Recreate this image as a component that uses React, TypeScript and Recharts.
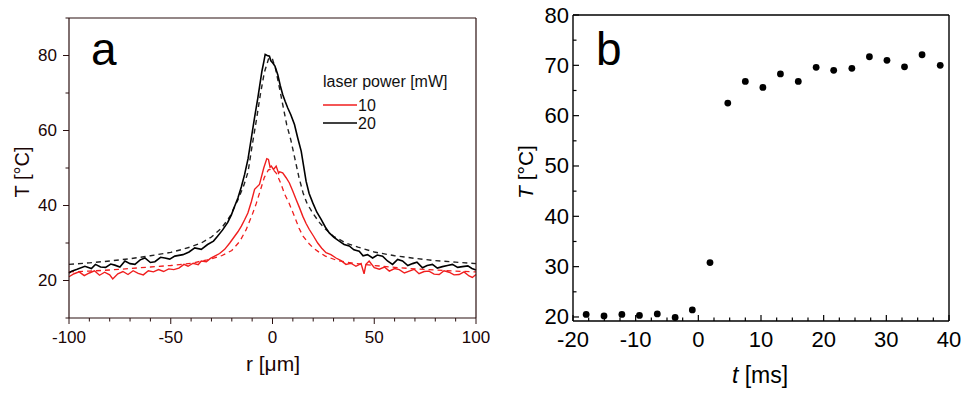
import React from "react";
import { LineChart, Line, ScatterChart, Scatter, XAxis, YAxis } from "recharts";

// ---- panel a: radial temperature profiles ----
const r20 = [
  -100, -98.7, -96, -92.2, -89, -87, -84.5, -82, -79.5, -77.5, -75, -72.5, -70, -67.6, -65, -62.7, -60, -57.8, -55,
  -52.9, -50.5, -48, -44, -41, -38.2, -35, -31.9, -29, -27, -24.5, -22, -20.2, -18.6, -17, -15.3, -13.7, -12, -10.4,
  -8.8, -7.2, -5.2, -4.2, -3.6, -2.6, -1.5, -0.8, 0.15, 1.2, 2.6, 3.8, 5, 6.2, 7.5, 9, 10.8, 12.4, 14.1, 15.3, 16.5,
  18, 19.8, 21.8, 23.9, 26, 27.9, 30.2, 32.8, 35.2, 37.7, 40, 42.6, 44.5, 46.7, 49.2, 51.5, 54.1, 56.5, 59, 61.5,
  63.9, 66.5, 68.8, 71, 73.7, 76, 78.6, 81, 83.5, 86, 88.4, 91, 93.3, 96, 98, 100,
];
const t20 = [
  22.0, 22.5, 23.0, 23.8, 23.2, 24.3, 23.6, 23.5, 24.4, 24.1, 23.6, 25.2, 24.5, 24.3, 25.5, 26.0, 24.8, 25.0, 26.2,
  26.0, 25.7, 26.5, 26.9, 27.6, 28.7, 28.3, 29.6, 30.5, 31.8, 33.5, 35.5, 37.5, 39.8, 42.0, 45.0, 48.3, 52.5, 58.0,
  63.5, 68.7, 75.8, 78.5, 80.3, 80.0, 79.8, 78.6, 78.0, 77.2, 74.9, 72.0, 69.6, 67.8, 66.0, 64.2, 61.6, 58.0, 54.5,
  50.5, 46.5, 43.2, 40.7, 38.2, 36.3, 34.2, 32.7, 31.5, 30.5, 29.6, 29.2, 28.2, 27.8, 26.6, 26.9, 26.0, 26.8, 26.5,
  25.2, 24.3, 25.6, 25.2, 24.0, 24.5, 24.9, 23.4, 24.0, 24.3, 23.3, 23.7, 24.0, 24.3, 23.5, 23.7, 23.9, 23.2, 22.8,
];

const r10 = [
  -100, -97.5, -95, -92.5, -90, -87.5, -85, -82.5, -80, -78.5, -76, -73.5, -71, -68.5, -66, -63.5, -61, -58.5, -56,
  -53.5, -51, -48.5, -46, -43.5, -41.5, -39, -36.5, -35, -32.5, -30.5, -28.4, -26, -23.5, -21, -18.6, -17, -15.3,
  -13.7, -12.1, -10.4, -8.8, -6.4, -4.3, -2.8, -2, -1.2, -0.6, 0.5, 1.8, 3, 3.5, 5, 6.7, 8.3, 10, 11.6, 13.2, 14.9,
  16.5, 18.1, 20.2, 22.2, 24.2, 26.3, 28.7, 31.2, 33.7, 36.1, 38.5, 41, 43.5, 45, 45.9, 47.5, 50, 52.5, 55, 57.4, 60,
  62.3, 64.8, 67.2, 69.6, 72, 74.5, 76.9, 79.4, 81.9, 84.3, 86.8, 89.2, 91.7, 94.1, 96.6, 98.2, 100,
];
const t10 = [
  21.0, 21.8, 22.3, 21.3, 22.0, 22.6, 21.4, 22.2, 21.5, 20.4, 21.8, 22.4, 21.6, 22.6, 21.9, 21.5, 22.6, 22.3, 22.9,
  22.4, 23.1, 22.9, 23.3, 24.3, 23.8, 24.6, 24.2, 25.2, 25.0, 25.9, 26.5, 27.2, 28.3, 30.0, 31.8, 33.0, 34.5, 36.2,
  38.0, 41.0, 44.3, 45.6, 50.0, 52.5, 52.3, 50.2, 50.5, 49.6, 50.5, 48.6, 49.0, 48.7, 47.4, 46.0, 43.8, 41.6, 39.5,
  37.1, 35.2, 33.6, 31.8, 30.0, 28.6, 27.4, 26.9, 26.0, 25.3, 24.3, 24.6, 23.8, 24.5, 21.8, 24.3, 25.2, 23.4, 23.0,
  23.6, 22.5, 23.2, 22.9, 22.0, 22.5, 23.0, 21.8, 22.4, 22.5, 21.7, 21.6, 22.6, 22.2, 21.5, 21.6, 22.3, 21.2, 20.8,
  21.6,
];

const rFit20 = [
  -100, -90, -80, -70, -60, -50, -45, -40, -35, -30, -25, -21, -17, -14, -12, -10, -8, -6, -4, -2, -1, 0, 1.5, 3, 5, 7,
  9, 11, 13, 15, 17, 20, 23, 26, 30, 36, 42, 50, 60, 70, 80, 90, 100,
];
const tFit20 = [
  24.3, 24.7, 25.2, 25.8, 26.6, 27.5, 28.2, 29.0, 30.0, 31.6, 34.0, 37.0, 41.5, 45.5, 49.0, 56.0, 62.5, 69.5, 75.5,
  79.0, 79.5, 79.0, 76.5, 72.5, 67.0, 61.5, 57.5, 52.5, 47.5, 43.4, 40.5, 37.8, 35.5, 33.7, 31.8, 30.0, 28.9, 27.6,
  26.6, 25.9, 25.3, 24.9, 24.5,
];

const rFit10 = [
  -100, -90, -80, -70, -60, -50, -40, -32, -25, -20, -16, -13, -10, -8, -6, -4, -2, 0, 2, 4, 6, 8, 10.8, 13, 15, 18,
  20, 23, 26, 32, 40, 50, 60, 70, 80, 90, 100,
];
const tFit10 = [
  22.3, 22.5, 22.8, 23.2, 23.6, 24.0, 24.6, 25.5, 26.6, 28.0, 30.5, 33.5, 37.5, 40.5, 44.0, 47.5, 49.5, 49.8, 48.5,
  46.0, 43.0, 40.8, 37.1, 34.0, 31.8, 29.8, 28.7, 27.5, 26.5, 25.3, 24.6, 24.0, 23.5, 23.1, 22.8, 22.5, 22.3,
];

const rTicks = [-100, -90, -80, -70, -60, -50, -40, -30, -20, -10, 0, 10, 20, 30, 40, 50, 60, 70, 80, 90, 100];
const tTicksA = [10, 20, 30, 40, 50, 60, 70, 80, 90];

// ---- panel b: temperature vs time ----
const tMs = [
  -17.9, -15.05, -12.2, -9.4, -6.55, -3.7, -0.96, 1.86, 4.7, 7.5, 10.3, 13.1, 15.95, 18.8, 21.6, 24.5, 27.3, 30.1,
  32.9, 35.7, 38.6,
];
const tempB = [
  20.5, 20.2, 20.5, 20.3, 20.6, 19.9, 21.4, 30.8, 62.5, 66.8, 65.6, 68.3, 66.8, 69.6, 69.0, 69.4, 71.7, 71.0, 69.7,
  72.1, 70.0,
];
const tTicksB = [-20, -17.5, -15, -12.5, -10, -7.5, -5, -2.5, 0, 2.5, 5, 7.5, 10, 12.5, 15, 17.5, 20, 22.5, 25, 27.5, 30, 32.5, 35, 37.5, 40];
const TTicksB = [20, 25, 30, 35, 40, 45, 50, 55, 60, 65, 70, 75, 80];

const zip = (xs: number[], ys: number[], kx: string, ky: string) =>
  xs.map((x, i) => ({ [kx]: x, [ky]: ys[i] }));

const meas20 = zip(r20, t20, "r", "T");
const meas10 = zip(r10, t10, "r", "T");
const fit20 = zip(rFit20, tFit20, "r", "T");
const fit10 = zip(rFit10, tFit10, "r", "T");
const pointsB = zip(tMs, tempB, "t", "T");

const FONT = '"Liberation Sans", Arial, sans-serif';
const RED = "#f01e1e";
const AXIS_A = "#2a1010";

type TickOpts = {
  side: "bottom" | "top" | "left" | "right";
  isMajor: (v: number) => boolean;
  inward: boolean;
  majorLen: number;
  minorLen: number;
  labels: boolean;
  gap: number;
  fontSize: number;
  color: string;
  textColor: string;
  width: number;
};

// draws tick mark + label itself (tickSize/tickMargin are 0, so x,y sit on the axis line)
const makeTick = (o: TickOpts) => (props: any) => {
  const { x, y, payload } = props;
  const v = payload.value as number;
  const major = o.isMajor(v);
  const len = major ? o.majorLen : o.minorLen;
  const s = o.inward ? -1 : 1;
  let x2 = x;
  let y2 = y;
  let tx = x;
  let ty = y;
  let anchor: "middle" | "end" | "start" = "middle";
  if (o.side === "bottom") {
    y2 = y + s * len;
    ty = y + o.gap;
  } else if (o.side === "top") {
    y2 = y - s * len;
    ty = y - o.gap;
  } else if (o.side === "left") {
    x2 = x - s * len;
    tx = x - o.gap;
    anchor = "end";
  } else {
    x2 = x + s * len;
    tx = x + o.gap;
    anchor = "start";
  }
  return (
    <g>
      <line x1={x} y1={y} x2={x2} y2={y2} stroke={o.color} strokeWidth={o.width} />
      {o.labels && major && (
        <text
          x={tx}
          y={ty}
          textAnchor={anchor}
          dominantBaseline="central"
          fontSize={o.fontSize}
          fontFamily={FONT}
          fill={o.textColor}
        >
          {String(v)}
        </text>
      )}
    </g>
  );
};

const axisCommon = { tickSize: 0, tickMargin: 0, tickLine: false, interval: 0 as const };

function PanelA() {
  const tickBase = { inward: false, majorLen: 6, minorLen: 3.5, color: AXIS_A, textColor: "#1a0505", width: 1, fontSize: 17 };
  const axisLine = { stroke: AXIS_A, strokeWidth: 1.2 };
  return (
    <div style={{ position: "absolute", left: 0, top: 0, width: 490, height: 393 }}>
      <LineChart width={490} height={393} margin={{ top: 8, right: 4, bottom: 55, left: 49 }}>
        <XAxis
          xAxisId="b"
          type="number"
          dataKey="r"
          domain={[-100, 100]}
          ticks={rTicks}
          height={20}
          axisLine={axisLine}
          {...axisCommon}
          tick={makeTick({ ...tickBase, side: "bottom", isMajor: (v) => v % 50 === 0, labels: true, gap: 19 })}
        />
        <XAxis
          xAxisId="t"
          orientation="top"
          type="number"
          dataKey="r"
          domain={[-100, 100]}
          ticks={rTicks}
          height={10}
          axisLine={axisLine}
          {...axisCommon}
          tick={makeTick({ ...tickBase, side: "top", isMajor: (v) => v % 50 === 0, labels: false, gap: 0 })}
        />
        <YAxis
          yAxisId="l"
          type="number"
          domain={[10, 90]}
          ticks={tTicksA}
          width={20}
          axisLine={axisLine}
          {...axisCommon}
          tick={makeTick({ ...tickBase, side: "left", isMajor: (v) => v % 20 === 0, labels: true, gap: 12 })}
        />
        <YAxis
          yAxisId="r"
          orientation="right"
          type="number"
          domain={[10, 90]}
          width={10}
          axisLine={axisLine}
          tick={false}
          tickLine={false}
        />
        <Line xAxisId="b" yAxisId="l" data={fit20} dataKey="T" stroke="#222" strokeWidth={1.4} strokeDasharray="5 4" dot={false} isAnimationActive={false} />
        <Line xAxisId="b" yAxisId="l" data={fit10} dataKey="T" stroke={RED} strokeWidth={1.3} strokeDasharray="5 4" dot={false} isAnimationActive={false} />
        <Line xAxisId="b" yAxisId="l" data={meas10} dataKey="T" stroke={RED} strokeWidth={1.4} dot={false} isAnimationActive={false} />
        <Line xAxisId="b" yAxisId="l" data={meas20} dataKey="T" stroke="#000" strokeWidth={1.6} dot={false} isAnimationActive={false} />
      </LineChart>
      <svg width={490} height={393} style={{ position: "absolute", left: 0, top: 0, pointerEvents: "none" }}>
        <text x={91} y={65} fontSize={46} fontFamily={FONT} fill="#000">a</text>
        <text x={323} y={81} fontSize={16} fontFamily={FONT} fill="#111" dominantBaseline="central">laser power [mW]</text>
        <line x1={323} y1={105} x2={357} y2={105} stroke={RED} strokeWidth={1.4} />
        <text x={358} y={105} fontSize={16} fontFamily={FONT} fill="#111" dominantBaseline="central">10</text>
        <line x1={323} y1={123} x2={357} y2={123} stroke="#000" strokeWidth={1.6} />
        <text x={358} y={123} fontSize={16} fontFamily={FONT} fill="#111" dominantBaseline="central">20</text>
        <text
          x={22}
          y={172}
          transform="rotate(-90 22 172)"
          textAnchor="middle"
          dominantBaseline="central"
          fontSize={20}
          fontFamily={FONT}
          fill="#1a0505"
        >
          T [°C]
        </text>
        <text x={273} y={363} textAnchor="middle" dominantBaseline="central" fontSize={21} fontFamily={FONT} fill="#1a0505">
          r [μm]
        </text>
      </svg>
    </div>
  );
}

function PanelB() {
  const tickBase = { inward: true, majorLen: 6, minorLen: 3.5, color: "#000", textColor: "#000", width: 1.2, fontSize: 22 };
  const axisLine = { stroke: "#000", strokeWidth: 1.4 };
  return (
    <div style={{ position: "absolute", left: 490, top: 0, width: 472, height: 393 }}>
      <ScatterChart width={472} height={393} margin={{ top: 5, right: 3, bottom: 52, left: 63 }}>
        <XAxis
          xAxisId="b"
          type="number"
          dataKey="t"
          domain={[-20, 40]}
          ticks={tTicksB}
          height={20}
          axisLine={axisLine}
          {...axisCommon}
          tick={makeTick({ ...tickBase, side: "bottom", isMajor: (v) => v % 10 === 0, labels: true, gap: 18 })}
        />
        <XAxis
          xAxisId="t"
          orientation="top"
          type="number"
          dataKey="t"
          domain={[-20, 40]}
          ticks={tTicksB}
          height={10}
          axisLine={axisLine}
          {...axisCommon}
          tick={makeTick({ ...tickBase, side: "top", isMajor: (v) => v % 10 === 0, labels: false, gap: 0 })}
        />
        <YAxis
          yAxisId="l"
          type="number"
          dataKey="T"
          domain={[19.2, 80]}
          ticks={TTicksB}
          width={20}
          axisLine={axisLine}
          {...axisCommon}
          tick={makeTick({ ...tickBase, side: "left", isMajor: (v) => v % 10 === 0, labels: true, gap: 4 })}
        />
        <YAxis
          yAxisId="r"
          orientation="right"
          type="number"
          domain={[19.2, 80]}
          ticks={TTicksB}
          width={10}
          axisLine={axisLine}
          {...axisCommon}
          tick={makeTick({ ...tickBase, side: "right", isMajor: (v) => v % 10 === 0, labels: false, gap: 0 })}
        />
        <Scatter
          xAxisId="b"
          yAxisId="l"
          data={pointsB}
          fill="#000"
          isAnimationActive={false}
          shape={(p: any) => <circle cx={p.cx} cy={p.cy} r={3.4} fill="#000" />}
        />
      </ScatterChart>
      <svg width={472} height={393} style={{ position: "absolute", left: 0, top: 0, pointerEvents: "none" }}>
        <text x={106} y={65} fontSize={46} fontFamily={FONT} fill="#000">b</text>
        <text
          x={35}
          y={172}
          transform="rotate(-90 35 172)"
          textAnchor="middle"
          dominantBaseline="central"
          fontSize={21}
          fontFamily={FONT}
          fill="#000"
        >
          <tspan fontStyle="italic">T</tspan> [°C]
        </text>
        <text x={270} y={375} textAnchor="middle" dominantBaseline="central" fontSize={23} fontFamily={FONT} fill="#000">
          <tspan fontStyle="italic">t</tspan> [ms]
        </text>
      </svg>
    </div>
  );
}

export default function App() {
  return (
    <div style={{ position: "relative", width: 962, height: 393, background: "#fff", overflow: "hidden" }}>
      <style>{"body{margin:0}"}</style>
      <PanelA />
      <PanelB />
    </div>
  );
}
